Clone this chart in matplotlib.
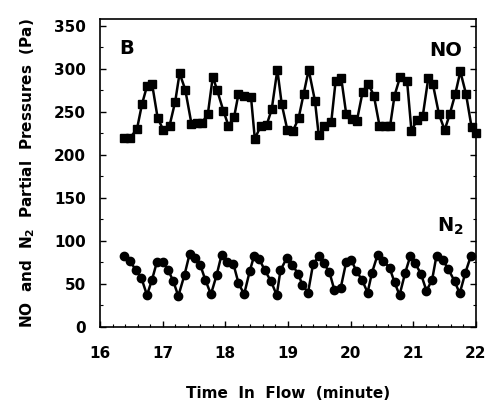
import matplotlib
matplotlib.use("Agg")
import matplotlib.pyplot as plt
from matplotlib.ticker import MultipleLocator

plt.rcParams['font.family'] = ['DejaVu Sans']
plt.rcParams['font.weight'] = 'bold'
plt.rcParams['mathtext.default'] = 'bf'

no_time = [16.39, 16.48, 16.59, 16.67, 16.75, 16.83, 16.92, 17.01, 17.11, 17.20,
           17.27, 17.36, 17.46, 17.54, 17.62, 17.72, 17.80, 17.87, 17.97, 18.05,
           18.14, 18.21, 18.30, 18.41, 18.47, 18.57, 18.66, 18.74, 18.83, 18.90,
           18.99, 19.08, 19.17, 19.25, 19.33, 19.43, 19.49, 19.58, 19.69, 19.76,
           19.85, 19.93, 20.02, 20.10, 20.19, 20.28, 20.37, 20.46, 20.54, 20.63,
           20.70, 20.79, 20.90, 20.97, 21.06, 21.15, 21.24, 21.31, 21.41, 21.50,
           21.58, 21.67, 21.75, 21.84, 21.93, 22.00]
no_pressure = [220, 220, 230, 259, 280, 283, 243, 229, 234, 262,
               295, 276, 236, 237, 237, 247, 291, 275, 251, 234,
               244, 271, 269, 267, 219, 234, 235, 253, 299, 259,
               229, 228, 243, 271, 299, 263, 223, 234, 238, 286,
               289, 247, 242, 240, 273, 283, 269, 234, 234, 234,
               269, 291, 286, 228, 241, 245, 290, 283, 247, 229,
               247, 271, 297, 271, 232, 226]

n2_time = [16.39, 16.48, 16.57, 16.66, 16.75, 16.83, 16.91, 17.00, 17.09, 17.17,
           17.25, 17.35, 17.43, 17.51, 17.60, 17.68, 17.77, 17.86, 17.94, 18.03,
           18.13, 18.21, 18.30, 18.39, 18.46, 18.54, 18.63, 18.73, 18.82, 18.88,
           18.98, 19.07, 19.16, 19.23, 19.32, 19.40, 19.49, 19.57, 19.66, 19.74,
           19.84, 19.93, 20.01, 20.09, 20.18, 20.27, 20.34, 20.43, 20.52, 20.62,
           20.70, 20.78, 20.87, 20.95, 21.03, 21.12, 21.21, 21.30, 21.37, 21.47,
           21.56, 21.66, 21.74, 21.83, 21.92]
n2_pressure = [82, 77, 66, 57, 37, 55, 76, 76, 66, 53,
               36, 61, 85, 80, 72, 55, 38, 60, 84, 76,
               73, 51, 38, 65, 83, 79, 66, 53, 37, 66,
               80, 72, 62, 49, 40, 73, 82, 74, 64, 43,
               45, 76, 78, 65, 55, 40, 63, 84, 77, 69,
               52, 37, 63, 82, 74, 62, 42, 55, 83, 78,
               67, 53, 39, 63, 83]

x_ticks = [16, 17, 18, 19, 20, 21, 22]
y_ticks = [0, 50, 100, 150, 200, 250, 300, 350]

fig = plt.figure(figsize=(4.87, 4.08), dpi=100)
ax = fig.add_axes([100 / 487, 1 - 327 / 408, 376 / 487, (327 - 19) / 408])

ax.plot(no_time, no_pressure, color='black', lw=1.8, marker='s', ms=6,
        mfc='black', mec='black', clip_on=False)
ax.plot(n2_time, n2_pressure, color='black', lw=1.8, marker='o', ms=6,
        mfc='black', mec='black', clip_on=False)

ax.set_xlim(16, 22)
ax.set_ylim(0, 358)
ax.set_xticks(x_ticks)
ax.set_yticks(y_ticks)
ax.xaxis.set_minor_locator(MultipleLocator(0.2))
ax.yaxis.set_minor_locator(MultipleLocator(25))
ax.tick_params(axis='both', which='major', direction='in', length=4, width=1,
               labelsize=11, top=False, right=True)
ax.tick_params(axis='both', which='minor', direction='in', length=2, width=0.8,
               top=False, right=True)
ax.tick_params(axis='x', which='major', pad=14)
ax.tick_params(axis='y', which='major', pad=10)
for lab in ax.get_xticklabels() + ax.get_yticklabels():
    lab.set_fontweight('bold')
for sp in ax.spines.values():
    sp.set_linewidth(1.2)

ax.set_xlabel('Time  In  Flow  (minute)', fontsize=11, fontweight='bold', labelpad=18)
ax.set_ylabel('NO  and  N$_2$  Partial  Pressures  (Pa)', fontsize=11,
              fontweight='bold', labelpad=12)

ax.text(16.31, 317, 'B', fontsize=14, fontweight='bold', ha='left', va='baseline')
ax.text(21.26, 315, 'NO', fontsize=14, fontweight='bold', ha='left', va='baseline')
ax.text(21.37, 111, 'N$_2$', fontsize=14, fontweight='bold', ha='left', va='baseline')

fig.savefig('out.png', dpi=100)
